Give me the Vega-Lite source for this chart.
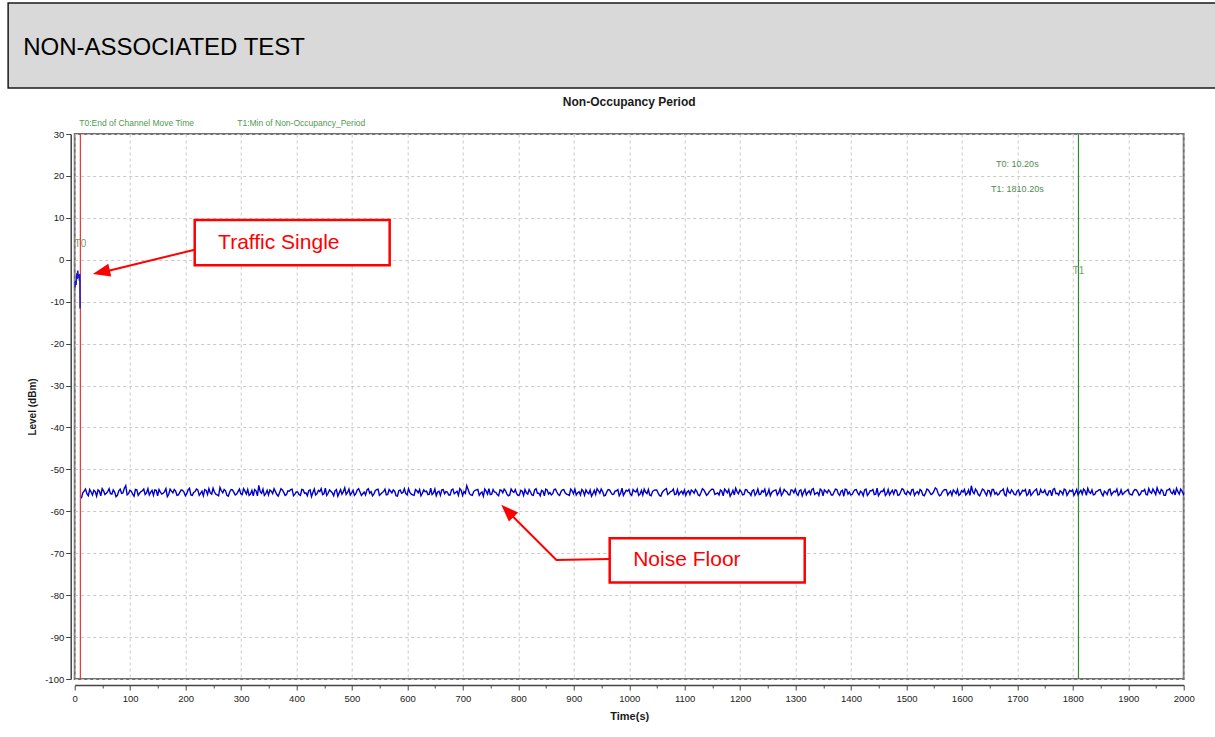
{
"$schema": "https://vega.github.io/schema/vega-lite/v6.json",
"padding": {"left": 7, "top": 2, "right": 0, "bottom": 0},
"background": "#ffffff",
"spacing": 6,
"center": true,
"resolve": {"legend": {"color": "independent"}, "scale": {"color": "independent"}},
"config": {"font": "Liberation Sans, Arial, sans-serif"},
"datasets": {
"noise": [
{"t":12,"v":-56.9},{"t":17,"v":-55.2},{"t":22,"v":-55.8},{"t":27,"v":-54.8},{"t":32,"v":-56.1},{"t":37,"v":-55.3},{"t":42,"v":-54.9},{"t":47,"v":-56.3},{"t":52,"v":-55.1},{"t":57,"v":-55.7},{"t":62,"v":-54.6},{"t":67,"v":-55.9},{"t":72,"v":-55.4},{"t":77,"v":-56.2},{"t":82,"v":-54.7},{"t":87,"v":-55.6},{"t":92,"v":-53.9},{"t":97,"v":-55.8},
{"t":102,"v":-55.2},{"t":107,"v":-56.4},{"t":112,"v":-54.9},{"t":117,"v":-55.7},{"t":122,"v":-55.1},{"t":127,"v":-56.0},{"t":132,"v":-54.6},{"t":137,"v":-55.5},{"t":142,"v":-56.2},{"t":147,"v":-55.0},{"t":152,"v":-54.8},{"t":157,"v":-55.9},{"t":162,"v":-55.3},{"t":167,"v":-56.5},{"t":172,"v":-54.7},{"t":177,"v":-55.6},{"t":182,"v":-55.2},{"t":187,"v":-56.1},{"t":192,"v":-54.9},{"t":197,"v":-55.4},
{"t":202,"v":-55.8},{"t":207,"v":-54.5},{"t":212,"v":-56.2},{"t":217,"v":-55.3},{"t":222,"v":-54.9},{"t":227,"v":-55.7},{"t":232,"v":-56.3},{"t":237,"v":-55.0},{"t":242,"v":-54.6},{"t":247,"v":-55.9},{"t":252,"v":-55.4},{"t":257,"v":-56.1},{"t":262,"v":-54.3},{"t":267,"v":-55.6},{"t":272,"v":-55.1},{"t":277,"v":-56.4},{"t":282,"v":-54.8},{"t":287,"v":-55.5},{"t":292,"v":-55.9},{"t":297,"v":-54.7},
{"t":302,"v":-56.0},{"t":307,"v":-55.2},{"t":312,"v":-54.8},{"t":317,"v":-55.9},{"t":322,"v":-56.3},{"t":327,"v":-55.1},{"t":332,"v":-53.8},{"t":337,"v":-55.7},{"t":342,"v":-56.2},{"t":347,"v":-55.0},{"t":352,"v":-54.9},{"t":357,"v":-55.8},{"t":362,"v":-55.3},{"t":367,"v":-56.4},{"t":372,"v":-54.6},{"t":377,"v":-55.5},{"t":382,"v":-56.0},{"t":387,"v":-55.2},{"t":392,"v":-54.7},{"t":397,"v":-55.9},
{"t":402,"v":-55.4},{"t":407,"v":-56.2},{"t":412,"v":-54.9},{"t":417,"v":-55.6},{"t":422,"v":-55.1},{"t":427,"v":-56.5},{"t":432,"v":-54.7},{"t":437,"v":-55.8},{"t":442,"v":-55.3},{"t":447,"v":-56.0},{"t":452,"v":-54.5},{"t":457,"v":-55.7},{"t":462,"v":-55.2},{"t":467,"v":-56.3},{"t":472,"v":-54.8},{"t":477,"v":-55.6},{"t":482,"v":-55.9},{"t":487,"v":-54.4},{"t":492,"v":-55.5},{"t":497,"v":-56.1},
{"t":502,"v":-55.0},{"t":507,"v":-55.8},{"t":512,"v":-54.6},{"t":517,"v":-56.2},{"t":522,"v":-55.4},{"t":527,"v":-54.9},{"t":532,"v":-55.7},{"t":537,"v":-56.3},{"t":542,"v":-55.1},{"t":547,"v":-54.7},{"t":552,"v":-55.9},{"t":557,"v":-55.3},{"t":562,"v":-56.1},{"t":567,"v":-54.8},{"t":572,"v":-55.6},{"t":577,"v":-55.2},{"t":582,"v":-56.4},{"t":587,"v":-54.9},{"t":592,"v":-55.5},{"t":597,"v":-55.8},
{"t":602,"v":-54.6},{"t":607,"v":-55.9},{"t":612,"v":-56.2},{"t":617,"v":-55.1},{"t":622,"v":-54.8},{"t":627,"v":-55.7},{"t":632,"v":-55.3},{"t":637,"v":-56.0},{"t":642,"v":-54.5},{"t":647,"v":-55.6},{"t":652,"v":-56.3},{"t":657,"v":-55.2},{"t":662,"v":-54.9},{"t":667,"v":-55.8},{"t":672,"v":-55.4},{"t":677,"v":-56.1},{"t":682,"v":-54.7},{"t":687,"v":-55.5},{"t":692,"v":-56.2},{"t":697,"v":-55.0},
{"t":702,"v":-55.3},{"t":707,"v":-53.9},{"t":712,"v":-55.8},{"t":717,"v":-56.2},{"t":722,"v":-55.0},{"t":727,"v":-54.8},{"t":732,"v":-55.7},{"t":737,"v":-56.4},{"t":742,"v":-55.2},{"t":747,"v":-54.6},{"t":752,"v":-55.9},{"t":757,"v":-55.4},{"t":762,"v":-56.0},{"t":767,"v":-54.9},{"t":772,"v":-55.6},{"t":777,"v":-55.1},{"t":782,"v":-56.3},{"t":787,"v":-54.7},{"t":792,"v":-55.5},{"t":797,"v":-55.8},
{"t":802,"v":-56.1},{"t":807,"v":-55.2},{"t":812,"v":-54.8},{"t":817,"v":-55.9},{"t":822,"v":-55.4},{"t":827,"v":-56.2},{"t":832,"v":-54.6},{"t":837,"v":-55.7},{"t":842,"v":-55.0},{"t":847,"v":-56.3},{"t":852,"v":-54.9},{"t":857,"v":-55.5},{"t":862,"v":-55.8},{"t":867,"v":-54.7},{"t":872,"v":-56.0},{"t":877,"v":-55.3},{"t":882,"v":-54.8},{"t":887,"v":-55.9},{"t":892,"v":-56.2},{"t":897,"v":-55.1},
{"t":902,"v":-54.7},{"t":907,"v":-55.6},{"t":912,"v":-56.1},{"t":917,"v":-55.2},{"t":922,"v":-54.9},{"t":927,"v":-55.8},{"t":932,"v":-56.4},{"t":937,"v":-55.0},{"t":942,"v":-54.6},{"t":947,"v":-55.7},{"t":952,"v":-55.3},{"t":957,"v":-56.2},{"t":962,"v":-54.8},{"t":967,"v":-55.5},{"t":972,"v":-55.9},{"t":977,"v":-55.1},{"t":982,"v":-56.3},{"t":987,"v":-54.5},{"t":992,"v":-55.6},{"t":997,"v":-55.2},
{"t":1002,"v":-55.9},{"t":1007,"v":-54.8},{"t":1012,"v":-55.4},{"t":1017,"v":-56.2},{"t":1022,"v":-55.0},{"t":1027,"v":-54.7},{"t":1032,"v":-55.8},{"t":1037,"v":-56.1},{"t":1042,"v":-55.3},{"t":1047,"v":-54.9},{"t":1052,"v":-55.6},{"t":1057,"v":-56.4},{"t":1062,"v":-55.1},{"t":1067,"v":-54.6},{"t":1072,"v":-55.7},{"t":1077,"v":-55.2},{"t":1082,"v":-56.0},{"t":1087,"v":-54.8},{"t":1092,"v":-55.5},{"t":1097,"v":-55.9},
{"t":1102,"v":-56.2},{"t":1107,"v":-55.1},{"t":1112,"v":-54.9},{"t":1117,"v":-55.7},{"t":1122,"v":-55.3},{"t":1127,"v":-56.3},{"t":1132,"v":-54.6},{"t":1137,"v":-55.5},{"t":1142,"v":-55.9},{"t":1147,"v":-55.0},{"t":1152,"v":-54.8},{"t":1157,"v":-55.8},{"t":1162,"v":-56.1},{"t":1167,"v":-55.2},{"t":1172,"v":-54.7},{"t":1177,"v":-55.6},{"t":1182,"v":-56.4},{"t":1187,"v":-55.0},{"t":1192,"v":-54.5},{"t":1197,"v":-55.8},
{"t":1202,"v":-55.3},{"t":1207,"v":-56.0},{"t":1212,"v":-54.9},{"t":1217,"v":-55.6},{"t":1222,"v":-55.1},{"t":1227,"v":-56.2},{"t":1232,"v":-54.7},{"t":1237,"v":-55.9},{"t":1242,"v":-55.4},{"t":1247,"v":-56.3},{"t":1252,"v":-54.8},{"t":1257,"v":-55.5},{"t":1262,"v":-55.0},{"t":1267,"v":-56.1},{"t":1272,"v":-54.6},{"t":1277,"v":-55.7},{"t":1282,"v":-55.2},{"t":1287,"v":-56.0},{"t":1292,"v":-54.9},{"t":1297,"v":-55.6},
{"t":1302,"v":-55.8},{"t":1307,"v":-55.1},{"t":1312,"v":-56.3},{"t":1317,"v":-54.8},{"t":1322,"v":-55.5},{"t":1327,"v":-55.9},{"t":1332,"v":-54.6},{"t":1337,"v":-55.7},{"t":1342,"v":-56.2},{"t":1347,"v":-55.0},{"t":1352,"v":-54.9},{"t":1357,"v":-55.6},{"t":1362,"v":-55.3},{"t":1367,"v":-56.1},{"t":1372,"v":-54.7},{"t":1377,"v":-55.8},{"t":1382,"v":-55.2},{"t":1387,"v":-56.4},{"t":1392,"v":-54.8},{"t":1397,"v":-55.4},
{"t":1402,"v":-56.0},{"t":1407,"v":-54.9},{"t":1412,"v":-55.6},{"t":1417,"v":-55.2},{"t":1422,"v":-56.3},{"t":1427,"v":-54.7},{"t":1432,"v":-55.8},{"t":1437,"v":-55.1},{"t":1442,"v":-56.0},{"t":1447,"v":-54.5},{"t":1452,"v":-55.7},{"t":1457,"v":-55.3},{"t":1462,"v":-56.2},{"t":1467,"v":-54.8},{"t":1472,"v":-55.5},{"t":1477,"v":-55.9},{"t":1482,"v":-55.0},{"t":1487,"v":-56.1},{"t":1492,"v":-54.6},{"t":1497,"v":-55.7},
{"t":1502,"v":-55.2},{"t":1507,"v":-56.0},{"t":1512,"v":-54.8},{"t":1517,"v":-55.6},{"t":1522,"v":-55.9},{"t":1527,"v":-55.1},{"t":1532,"v":-56.3},{"t":1537,"v":-54.7},{"t":1542,"v":-55.5},{"t":1547,"v":-55.8},{"t":1552,"v":-54.4},{"t":1557,"v":-55.7},{"t":1562,"v":-56.1},{"t":1567,"v":-55.0},{"t":1572,"v":-54.9},{"t":1577,"v":-55.6},{"t":1582,"v":-56.2},{"t":1587,"v":-55.3},{"t":1592,"v":-54.8},{"t":1597,"v":-55.9},
{"t":1602,"v":-55.4},{"t":1607,"v":-56.1},{"t":1612,"v":-54.9},{"t":1617,"v":-53.9},{"t":1622,"v":-55.8},{"t":1627,"v":-55.2},{"t":1632,"v":-56.3},{"t":1637,"v":-54.7},{"t":1642,"v":-55.6},{"t":1647,"v":-55.0},{"t":1652,"v":-56.2},{"t":1657,"v":-54.8},{"t":1662,"v":-55.5},{"t":1667,"v":-55.9},{"t":1672,"v":-55.1},{"t":1677,"v":-56.0},{"t":1682,"v":-54.6},{"t":1687,"v":-55.7},{"t":1692,"v":-55.3},{"t":1697,"v":-56.1},
{"t":1702,"v":-54.9},{"t":1707,"v":-55.6},{"t":1712,"v":-55.2},{"t":1717,"v":-56.2},{"t":1722,"v":-54.7},{"t":1727,"v":-55.8},{"t":1732,"v":-55.0},{"t":1737,"v":-56.1},{"t":1742,"v":-54.8},{"t":1747,"v":-55.5},{"t":1752,"v":-55.9},{"t":1757,"v":-55.2},{"t":1762,"v":-56.3},{"t":1767,"v":-54.6},{"t":1772,"v":-55.7},{"t":1777,"v":-55.1},{"t":1782,"v":-56.0},{"t":1787,"v":-54.9},{"t":1792,"v":-55.6},{"t":1797,"v":-55.3},
{"t":1802,"v":-56.2},{"t":1807,"v":-54.8},{"t":1812,"v":-55.5},{"t":1817,"v":-55.9},{"t":1822,"v":-55.1},{"t":1827,"v":-54.5},{"t":1832,"v":-55.7},{"t":1837,"v":-56.1},{"t":1842,"v":-55.3},{"t":1847,"v":-54.9},{"t":1852,"v":-55.8},{"t":1857,"v":-55.2},{"t":1862,"v":-56.0},{"t":1867,"v":-54.7},{"t":1872,"v":-55.6},{"t":1877,"v":-55.4},{"t":1882,"v":-56.2},{"t":1887,"v":-54.9},{"t":1892,"v":-55.7},{"t":1897,"v":-55.1},
{"t":1902,"v":-55.8},{"t":1907,"v":-56.1},{"t":1912,"v":-54.8},{"t":1917,"v":-55.4},{"t":1922,"v":-55.9},{"t":1927,"v":-55.2},{"t":1932,"v":-56.0},{"t":1937,"v":-54.6},{"t":1942,"v":-55.7},{"t":1947,"v":-55.3},{"t":1952,"v":-54.4},{"t":1957,"v":-55.8},{"t":1962,"v":-55.1},{"t":1967,"v":-56.2},{"t":1972,"v":-54.9},{"t":1977,"v":-55.5},{"t":1982,"v":-55.0},{"t":1987,"v":-54.5},{"t":1992,"v":-55.9},{"t":1997,"v":-55.2},
{"t":2000,"v":-55.6},
{"t":14.5,"v":-55.6},{"t":19.5,"v":-54.7},{"t":24.5,"v":-56.3},{"t":29.5,"v":-55.4},{"t":34.5,"v":-55.0},{"t":39.5,"v":-56.4},{"t":44.5,"v":-55.2},{"t":49.5,"v":-54.6},{"t":54.5,"v":-56.0},{"t":59.5,"v":-55.3},{"t":64.5,"v":-55.8},{"t":69.5,"v":-54.9},{"t":74.5,"v":-56.5},{"t":79.5,"v":-55.1},{"t":84.5,"v":-55.7},{"t":89.5,"v":-54.5},{"t":94.5,"v":-56.1},{"t":99.5,"v":-55.0},
{"t":104.5,"v":-55.9},{"t":109.5,"v":-54.8},{"t":114.5,"v":-56.2},{"t":119.5,"v":-55.3},{"t":124.5,"v":-54.7},{"t":129.5,"v":-55.6},{"t":134.5,"v":-56.1},{"t":139.5,"v":-55.0},{"t":144.5,"v":-54.9},{"t":149.5,"v":-56.3},{"t":154.5,"v":-55.4},{"t":159.5,"v":-55.7},{"t":164.5,"v":-54.6},{"t":169.5,"v":-56.0},{"t":174.5,"v":-55.2},{"t":179.5,"v":-54.8},{"t":184.5,"v":-56.2},{"t":189.5,"v":-55.5},{"t":194.5,"v":-55.0},{"t":199.5,"v":-56.3},
{"t":204.5,"v":-54.9},{"t":209.5,"v":-56.1},{"t":214.5,"v":-55.5},{"t":219.5,"v":-54.7},{"t":224.5,"v":-56.2},{"t":229.5,"v":-55.2},{"t":234.5,"v":-54.8},{"t":239.5,"v":-56.0},{"t":244.5,"v":-55.6},{"t":249.5,"v":-54.5},{"t":254.5,"v":-55.9},{"t":259.5,"v":-56.3},{"t":264.5,"v":-55.1},{"t":269.5,"v":-54.8},{"t":274.5,"v":-56.2},{"t":279.5,"v":-55.4},{"t":284.5,"v":-54.9},{"t":289.5,"v":-56.1},{"t":294.5,"v":-55.3},{"t":299.5,"v":-55.8},
{"t":304.5,"v":-54.6},{"t":309.5,"v":-55.9},{"t":314.5,"v":-56.2},{"t":319.5,"v":-55.0},{"t":324.5,"v":-54.8},{"t":329.5,"v":-56.3},{"t":334.5,"v":-55.3},{"t":339.5,"v":-54.7},{"t":344.5,"v":-55.8},{"t":349.5,"v":-56.1},{"t":354.5,"v":-55.2},{"t":359.5,"v":-54.6},{"t":364.5,"v":-56.0},{"t":369.5,"v":-55.5},{"t":374.5,"v":-54.9},{"t":379.5,"v":-56.2},{"t":384.5,"v":-55.1},{"t":389.5,"v":-54.8},{"t":394.5,"v":-56.3},{"t":399.5,"v":-55.4},
{"t":404.5,"v":-56.0},{"t":409.5,"v":-54.8},{"t":414.5,"v":-55.7},{"t":419.5,"v":-56.3},{"t":424.5,"v":-54.9},{"t":429.5,"v":-55.5},{"t":434.5,"v":-56.1},{"t":439.5,"v":-55.0},{"t":444.5,"v":-54.6},{"t":449.5,"v":-55.8},{"t":454.5,"v":-56.2},{"t":459.5,"v":-54.9},{"t":464.5,"v":-55.6},{"t":469.5,"v":-55.1},{"t":474.5,"v":-56.4},{"t":479.5,"v":-54.8},{"t":484.5,"v":-55.3},{"t":489.5,"v":-56.0},{"t":494.5,"v":-54.7},{"t":499.5,"v":-55.6},
{"t":504.5,"v":-56.2},{"t":509.5,"v":-54.9},{"t":514.5,"v":-55.4},{"t":519.5,"v":-55.8},{"t":524.5,"v":-56.1},{"t":529.5,"v":-54.6},{"t":534.5,"v":-55.3},{"t":539.5,"v":-55.9},{"t":544.5,"v":-54.8},{"t":549.5,"v":-56.2},{"t":554.5,"v":-55.5},{"t":559.5,"v":-54.7},{"t":564.5,"v":-56.0},{"t":569.5,"v":-55.2},{"t":574.5,"v":-54.9},{"t":579.5,"v":-56.3},{"t":584.5,"v":-55.1},{"t":589.5,"v":-55.7},{"t":594.5,"v":-54.6},{"t":599.5,"v":-56.1},
{"t":604.5,"v":-55.5},{"t":609.5,"v":-56.1},{"t":614.5,"v":-54.8},{"t":619.5,"v":-55.6},{"t":624.5,"v":-56.3},{"t":629.5,"v":-54.9},{"t":634.5,"v":-55.2},{"t":639.5,"v":-55.9},{"t":644.5,"v":-56.0},{"t":649.5,"v":-54.7},{"t":654.5,"v":-55.4},{"t":659.5,"v":-56.2},{"t":664.5,"v":-54.8},{"t":669.5,"v":-55.3},{"t":674.5,"v":-56.1},{"t":679.5,"v":-54.9},{"t":684.5,"v":-55.8},{"t":689.5,"v":-55.2},{"t":694.5,"v":-54.6},{"t":699.5,"v":-56.2},
{"t":704.5,"v":-55.7},{"t":709.5,"v":-54.8},{"t":714.5,"v":-56.1},{"t":719.5,"v":-55.3},{"t":724.5,"v":-54.9},{"t":729.5,"v":-56.2},{"t":734.5,"v":-55.4},{"t":739.5,"v":-54.7},{"t":744.5,"v":-55.9},{"t":749.5,"v":-56.0},{"t":754.5,"v":-54.8},{"t":759.5,"v":-55.5},{"t":764.5,"v":-56.3},{"t":769.5,"v":-55.0},{"t":774.5,"v":-54.7},{"t":779.5,"v":-55.9},{"t":784.5,"v":-56.1},{"t":789.5,"v":-55.2},{"t":794.5,"v":-54.8},{"t":799.5,"v":-56.2},
{"t":804.5,"v":-55.0},{"t":809.5,"v":-56.2},{"t":814.5,"v":-55.6},{"t":819.5,"v":-54.8},{"t":824.5,"v":-56.1},{"t":829.5,"v":-54.9},{"t":834.5,"v":-55.7},{"t":839.5,"v":-56.3},{"t":844.5,"v":-55.2},{"t":849.5,"v":-54.7},{"t":854.5,"v":-55.9},{"t":859.5,"v":-56.1},{"t":864.5,"v":-54.8},{"t":869.5,"v":-55.4},{"t":874.5,"v":-56.2},{"t":879.5,"v":-54.9},{"t":884.5,"v":-55.6},{"t":889.5,"v":-56.0},{"t":894.5,"v":-54.7},{"t":899.5,"v":-55.8},
{"t":904.5,"v":-56.1},{"t":909.5,"v":-55.3},{"t":914.5,"v":-54.8},{"t":919.5,"v":-56.2},{"t":924.5,"v":-55.5},{"t":929.5,"v":-54.9},{"t":934.5,"v":-55.8},{"t":939.5,"v":-56.0},{"t":944.5,"v":-55.1},{"t":949.5,"v":-54.7},{"t":954.5,"v":-56.3},{"t":959.5,"v":-55.4},{"t":964.5,"v":-54.9},{"t":969.5,"v":-56.0},{"t":974.5,"v":-55.2},{"t":979.5,"v":-54.8},{"t":984.5,"v":-55.7},{"t":989.5,"v":-56.2},{"t":994.5,"v":-55.0},{"t":999.5,"v":-54.8},
{"t":1004.5,"v":-56.2},{"t":1009.5,"v":-55.2},{"t":1014.5,"v":-54.7},{"t":1019.5,"v":-55.9},{"t":1024.5,"v":-56.1},{"t":1029.5,"v":-55.4},{"t":1034.5,"v":-54.8},{"t":1039.5,"v":-56.3},{"t":1044.5,"v":-55.0},{"t":1049.5,"v":-54.9},{"t":1054.5,"v":-56.2},{"t":1059.5,"v":-55.5},{"t":1064.5,"v":-54.8},{"t":1069.5,"v":-56.0},{"t":1074.5,"v":-55.3},{"t":1079.5,"v":-54.7},{"t":1084.5,"v":-55.9},{"t":1089.5,"v":-56.1},{"t":1094.5,"v":-55.2},{"t":1099.5,"v":-54.9},
{"t":1104.5,"v":-55.4},{"t":1109.5,"v":-56.0},{"t":1114.5,"v":-55.2},{"t":1119.5,"v":-54.8},{"t":1124.5,"v":-56.1},{"t":1129.5,"v":-55.5},{"t":1134.5,"v":-54.9},{"t":1139.5,"v":-56.2},{"t":1144.5,"v":-55.3},{"t":1149.5,"v":-54.7},{"t":1154.5,"v":-56.0},{"t":1159.5,"v":-55.6},{"t":1164.5,"v":-54.9},{"t":1169.5,"v":-56.3},{"t":1174.5,"v":-55.1},{"t":1179.5,"v":-54.8},{"t":1184.5,"v":-55.8},{"t":1189.5,"v":-56.1},{"t":1194.5,"v":-55.3},{"t":1199.5,"v":-54.9},
{"t":1204.5,"v":-56.1},{"t":1209.5,"v":-54.8},{"t":1214.5,"v":-55.5},{"t":1219.5,"v":-56.2},{"t":1224.5,"v":-54.9},{"t":1229.5,"v":-55.7},{"t":1234.5,"v":-56.0},{"t":1239.5,"v":-55.1},{"t":1244.5,"v":-54.7},{"t":1249.5,"v":-55.8},{"t":1254.5,"v":-56.3},{"t":1259.5,"v":-55.2},{"t":1264.5,"v":-54.9},{"t":1269.5,"v":-55.6},{"t":1274.5,"v":-56.2},{"t":1279.5,"v":-54.8},{"t":1284.5,"v":-55.4},{"t":1289.5,"v":-56.1},{"t":1294.5,"v":-55.0},{"t":1299.5,"v":-54.7},
{"t":1304.5,"v":-56.2},{"t":1309.5,"v":-54.9},{"t":1314.5,"v":-55.4},{"t":1319.5,"v":-56.1},{"t":1324.5,"v":-55.1},{"t":1329.5,"v":-54.8},{"t":1334.5,"v":-56.0},{"t":1339.5,"v":-55.5},{"t":1344.5,"v":-54.7},{"t":1349.5,"v":-56.3},{"t":1354.5,"v":-55.2},{"t":1359.5,"v":-54.9},{"t":1364.5,"v":-56.1},{"t":1369.5,"v":-55.4},{"t":1374.5,"v":-54.8},{"t":1379.5,"v":-56.2},{"t":1384.5,"v":-55.0},{"t":1389.5,"v":-54.7},{"t":1394.5,"v":-55.9},{"t":1399.5,"v":-56.1},
{"t":1404.5,"v":-55.3},{"t":1409.5,"v":-54.8},{"t":1414.5,"v":-56.1},{"t":1419.5,"v":-55.5},{"t":1424.5,"v":-54.9},{"t":1429.5,"v":-56.2},{"t":1434.5,"v":-55.1},{"t":1439.5,"v":-54.8},{"t":1444.5,"v":-55.9},{"t":1449.5,"v":-56.3},{"t":1454.5,"v":-55.2},{"t":1459.5,"v":-54.7},{"t":1464.5,"v":-55.8},{"t":1469.5,"v":-56.1},{"t":1474.5,"v":-55.0},{"t":1479.5,"v":-54.9},{"t":1484.5,"v":-56.2},{"t":1489.5,"v":-55.4},{"t":1494.5,"v":-54.8},{"t":1499.5,"v":-56.0},
{"t":1504.5,"v":-55.5},{"t":1509.5,"v":-54.9},{"t":1514.5,"v":-56.2},{"t":1519.5,"v":-55.3},{"t":1524.5,"v":-54.8},{"t":1529.5,"v":-56.1},{"t":1534.5,"v":-55.6},{"t":1539.5,"v":-54.9},{"t":1544.5,"v":-56.0},{"t":1549.5,"v":-55.2},{"t":1554.5,"v":-54.7},{"t":1559.5,"v":-56.3},{"t":1564.5,"v":-55.4},{"t":1569.5,"v":-54.8},{"t":1574.5,"v":-56.1},{"t":1579.5,"v":-55.2},{"t":1584.5,"v":-54.9},{"t":1589.5,"v":-55.8},{"t":1594.5,"v":-56.2},{"t":1599.5,"v":-55.1},
{"t":1604.5,"v":-54.8},{"t":1609.5,"v":-55.7},{"t":1614.5,"v":-56.2},{"t":1619.5,"v":-55.3},{"t":1624.5,"v":-54.7},{"t":1629.5,"v":-56.0},{"t":1634.5,"v":-55.5},{"t":1639.5,"v":-54.9},{"t":1644.5,"v":-56.2},{"t":1649.5,"v":-55.1},{"t":1654.5,"v":-54.8},{"t":1659.5,"v":-55.9},{"t":1664.5,"v":-56.1},{"t":1669.5,"v":-55.2},{"t":1674.5,"v":-54.7},{"t":1679.5,"v":-56.3},{"t":1684.5,"v":-55.4},{"t":1689.5,"v":-54.9},{"t":1694.5,"v":-56.0},{"t":1699.5,"v":-55.2},
{"t":1704.5,"v":-56.1},{"t":1709.5,"v":-55.0},{"t":1714.5,"v":-54.8},{"t":1719.5,"v":-55.9},{"t":1724.5,"v":-56.2},{"t":1729.5,"v":-55.3},{"t":1734.5,"v":-54.7},{"t":1739.5,"v":-56.0},{"t":1744.5,"v":-55.5},{"t":1749.5,"v":-54.9},{"t":1754.5,"v":-56.2},{"t":1759.5,"v":-55.1},{"t":1764.5,"v":-54.8},{"t":1769.5,"v":-55.8},{"t":1774.5,"v":-56.1},{"t":1779.5,"v":-55.4},{"t":1784.5,"v":-54.7},{"t":1789.5,"v":-56.2},{"t":1794.5,"v":-55.0},{"t":1799.5,"v":-54.9},
{"t":1804.5,"v":-55.6},{"t":1809.5,"v":-56.1},{"t":1814.5,"v":-55.0},{"t":1819.5,"v":-54.7},{"t":1824.5,"v":-56.2},{"t":1829.5,"v":-55.4},{"t":1834.5,"v":-54.9},{"t":1839.5,"v":-56.0},{"t":1844.5,"v":-55.2},{"t":1849.5,"v":-54.8},{"t":1854.5,"v":-56.3},{"t":1859.5,"v":-55.5},{"t":1864.5,"v":-54.9},{"t":1869.5,"v":-56.1},{"t":1874.5,"v":-55.2},{"t":1879.5,"v":-54.7},{"t":1884.5,"v":-55.9},{"t":1889.5,"v":-56.0},{"t":1894.5,"v":-55.3},{"t":1899.5,"v":-54.8},
{"t":1904.5,"v":-56.0},{"t":1909.5,"v":-55.2},{"t":1914.5,"v":-54.9},{"t":1919.5,"v":-56.2},{"t":1924.5,"v":-55.1},{"t":1929.5,"v":-54.8},{"t":1934.5,"v":-56.1},{"t":1939.5,"v":-55.4},{"t":1944.5,"v":-54.7},{"t":1949.5,"v":-56.0},{"t":1954.5,"v":-55.3},{"t":1959.5,"v":-54.8},{"t":1964.5,"v":-56.2},{"t":1969.5,"v":-55.0},{"t":1974.5,"v":-54.6},{"t":1979.5,"v":-55.8},{"t":1984.5,"v":-56.1},{"t":1989.5,"v":-55.3},{"t":1994.5,"v":-54.7},{"t":1999.5,"v":-55.9}
],
"traffic": [
{"t":0.5,"v":-6.6},{"t":1.5,"v":-5.0},{"t":2.5,"v":-6.0},{"t":3.5,"v":-3.2},{"t":4.5,"v":-4.6},{"t":5.5,"v":-2.6},{"t":6.5,"v":-4.3},{"t":7.5,"v":-3.5},{"t":8.5,"v":-5.0},{"t":9.2,"v":-3.4},{"t":9.6,"v":-11.6}
],
"markers": [
{"name":"T0:End of Channel Move Time","tag":"T0","t":10.2,"ly":3.7},
{"name":"T1:Min of Non-Occupancy_Period","tag":"T1","t":1810.2,"ly":-2.7}
],
"readouts": [
{"t":1700,"v":22.9,"label":"T0: 10.20s"},
{"t":1700,"v":16.8,"label":"T1: 1810.20s"}
],
"arrows": [
{"id":"a1","o":1,"t":216.4,"v":2.4},{"id":"a1","o":2,"t":52,"v":-2.9},
{"id":"a2","o":1,"t":964.8,"v":-71.4},{"id":"a2","o":2,"t":868.7,"v":-71.6},{"id":"a2","o":3,"t":783,"v":-60.3}
],
"heads": [
{"id":"a1","t":48,"v":-2.94},
{"id":"a2","t":780.3,"v":-59.9}
],
"boxes": [
{"label":"Traffic Single","x1":216.4,"x2":568,"y1":9.5,"y2":-1.3,"tx":368,"ty":4.0},
{"label":"Noise Floor","x1":964.8,"x2":1316.5,"y1":-66.4,"y2":-77.0,"tx":1104,"ty":-71.7}
]
},
"vconcat": [
{
"width": 1253,
"height": 85,
"view": {"fill": "#d9d9d9", "stroke": "#1a1a1a", "strokeWidth": 1.5},
"data": {"values": [{"pos": 1.2, "row": -0.06, "label": "NON-ASSOCIATED TEST"}]},
"mark": {"type": "text", "align": "left", "baseline": "middle", "fontSize": 24, "color": "#000000"},
"encoding": {
"x": {"field": "pos", "type": "quantitative", "scale": {"domain": [0, 100], "nice": false, "zero": false}, "axis": null},
"y": {"field": "row", "type": "quantitative", "scale": {"domain": [-1, 1], "nice": false, "zero": false}, "axis": null},
"text": {"field": "label"}
}
},
{
"width": 1109,
"height": 545,
"view": {"stroke": "#707070", "strokeWidth": 2},
"title": {"text": "Non-Occupancy Period", "fontSize": 12, "fontWeight": "bold", "color": "#1a1a1a", "offset": 10},
"encoding": {
"x": {"field": "t", "type": "quantitative", "scale": {"domain": [0, 2000], "nice": false, "zero": false},
"axis": {"title": "Time(s)", "titleFontSize": 11, "titleFontWeight": "bold", "titleColor": "#1a1a1a", "titlePadding": 8,
"values": [0,50,100,150,200,250,300,350,400,450,500,550,600,650,700,750,800,850,900,950,1000,1050,1100,1150,1200,1250,1300,1350,1400,1450,1500,1550,1600,1650,1700,1750,1800,1850,1900,1950,2000],
"labelExpr": "datum.value % 100 === 0 ? '' + datum.value : ''",
"tickSize": {"condition": {"test": "datum.value % 100 === 0", "value": 5}, "value": 3},
"grid": true,
"gridOpacity": {"condition": {"test": "datum.value % 100 === 0", "value": 1}, "value": 0},
"gridDash": [3, 3], "gridColor": "#c8c8c8", "gridWidth": 1,
"offset": 6, "domainColor": "#444444", "domainWidth": 1.5, "tickColor": "#444444", "tickWidth": 1,
"labelFontSize": 9.5, "labelColor": "#222222", "labelPadding": 3, "labelOverlap": false, "labelBound": false, "labelFlush": false}}
},
"layer": [
{
"data": {"name": "markers"},
"mark": {"type": "rule", "strokeWidth": 1.2, "opacity": 1},
"encoding": {
"color": {"field": "name", "type": "nominal",
"scale": {"domain": ["T0:End of Channel Move Time", "T1:Min of Non-Occupancy_Period"], "range": ["#ee3333", "#2e8b2e"]},
"legend": {"orient": "top", "direction": "horizontal", "title": null, "symbolSize": 0, "symbolOpacity": 0, "symbolStrokeWidth": 0, "labelOffset": -4, "labelColor": "#4f9a4f", "labelFontSize": 8.5, "columnPadding": 38, "offset": 6, "padding": 0}}
}
},
{
"data": {"name": "noise"},
"mark": {"type": "line", "color": "#0000cc", "strokeWidth": 1.4},
"encoding": {
"y": {"field": "v", "type": "quantitative", "scale": {"domain": [-100, 30], "nice": false, "zero": false},
"axis": {"title": "Level (dBm)", "titleFontSize": 10, "titleFontWeight": "bold", "titleColor": "#1a1a1a", "titlePadding": 7,
"values": [-100,-95,-90,-85,-80,-75,-70,-65,-60,-55,-50,-45,-40,-35,-30,-25,-20,-15,-10,-5,0,5,10,15,20,25,30],
"labelExpr": "datum.value % 10 === 0 ? '' + datum.value : ''",
"tickSize": {"condition": {"test": "datum.value % 10 === 0", "value": 5}, "value": 3},
"grid": true,
"gridOpacity": {"condition": {"test": "datum.value % 10 === 0", "value": 1}, "value": 0},
"gridDash": [3, 3], "gridColor": "#c8c8c8", "gridWidth": 1,
"offset": 4, "domainColor": "#444444", "domainWidth": 1.5, "tickColor": "#444444", "tickWidth": 1,
"labelFontSize": 9.5, "labelColor": "#222222", "labelPadding": 2, "labelOverlap": false, "labelBound": false, "labelFlush": false}}
}
},
{
"data": {"name": "traffic"},
"mark": {"type": "line", "color": "#1a1acc", "strokeWidth": 1.5},
"encoding": {"y": {"field": "v", "type": "quantitative", "scale": {"domain": [-100, 30], "nice": false, "zero": false}}}
},
{
"data": {"name": "markers"},
"mark": {"type": "text", "align": "center", "baseline": "middle", "fontSize": 10, "color": "#7a9a6a"},
"encoding": {
"y": {"field": "ly", "type": "quantitative", "scale": {"domain": [-100, 30], "nice": false, "zero": false}},
"text": {"field": "tag"}
}
},
{
"data": {"name": "readouts"},
"mark": {"type": "text", "align": "center", "baseline": "middle", "fontSize": 9, "color": "#4f8a4f"},
"encoding": {
"y": {"field": "v", "type": "quantitative", "scale": {"domain": [-100, 30], "nice": false, "zero": false}},
"text": {"field": "label"}
}
},
{
"data": {"name": "arrows"},
"mark": {"type": "line", "color": "#ff0000", "strokeWidth": 2},
"encoding": {
"y": {"field": "v", "type": "quantitative", "scale": {"domain": [-100, 30], "nice": false, "zero": false}},
"detail": {"field": "id"},
"order": {"field": "o"}
}
},
{
"data": {"name": "heads"},
"transform": [{"filter": "datum.id === 'a1'"}],
"mark": {"type": "point", "shape": "M0,-1L-0.75,1L0.75,1Z", "size": 300, "angle": 257, "filled": true, "color": "#ff0000", "opacity": 1},
"encoding": {"y": {"field": "v", "type": "quantitative", "scale": {"domain": [-100, 30], "nice": false, "zero": false}}}
},
{
"data": {"name": "heads"},
"transform": [{"filter": "datum.id === 'a2'"}],
"mark": {"type": "point", "shape": "M0,-1L-0.75,1L0.75,1Z", "size": 300, "angle": 315, "filled": true, "color": "#ff0000", "opacity": 1},
"encoding": {"y": {"field": "v", "type": "quantitative", "scale": {"domain": [-100, 30], "nice": false, "zero": false}}}
},
{
"data": {"name": "boxes"},
"mark": {"type": "rect", "fill": "#ffffff", "stroke": "#ff0000", "strokeWidth": 2.5},
"encoding": {
"x": {"field": "x1", "type": "quantitative"},
"x2": {"field": "x2"},
"y": {"field": "y1", "type": "quantitative", "scale": {"domain": [-100, 30], "nice": false, "zero": false}},
"y2": {"field": "y2"}
}
},
{
"data": {"name": "boxes"},
"mark": {"type": "text", "align": "center", "baseline": "middle", "fontSize": 21, "color": "#ff0000"},
"encoding": {
"x": {"field": "tx", "type": "quantitative"},
"y": {"field": "ty", "type": "quantitative", "scale": {"domain": [-100, 30], "nice": false, "zero": false}},
"text": {"field": "label"}
}
}
]
}
]
}
